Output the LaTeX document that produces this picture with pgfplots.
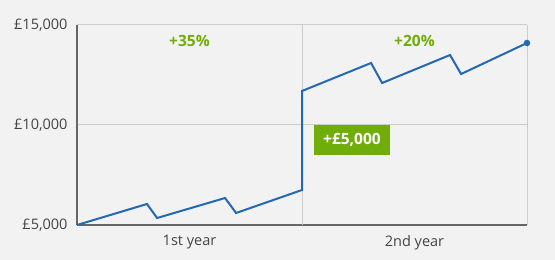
\documentclass[border=0pt]{standalone}
\usepackage{fontspec}
\setmainfont{Open Sans}
\usepackage{pgfplots}
\pgfplotsset{compat=1.18}
\definecolor{bg}{HTML}{F2F2F2}
\definecolor{axgray}{HTML}{666666}
\definecolor{gridgray}{HTML}{CCCCCC}
\definecolor{lblgray}{HTML}{444444}
\definecolor{lineblue}{HTML}{2368B4}
\definecolor{accgreen}{HTML}{70AD0A}
\begin{document}
\begin{tikzpicture}
\path[fill=bg, use as bounding box] (-77pt,-35pt) rectangle (478pt,225pt);
\begin{axis}[
  at={(0,0)}, anchor=south west,
  scale only axis, width=450pt, height=200pt,
  xmin=0, xmax=2, ymin=5000, ymax=15000,
  scaled y ticks=false,
  axis x line*=bottom, axis y line*=left,
  axis line style={draw=axgray, line width=2pt, -},
  xtick={0.5,1.5}, xticklabels={1st year,2nd year},
  ytick={5000,10000,15000}, yticklabels={{£5,000},{£10,000},{£15,000}},
  major tick length=0,
  ymajorgrids,
  grid style={draw=gridgray, line width=1pt},
  extra x ticks={1,2}, extra x tick labels={},
  extra x tick style={grid=major, major tick length=0},
  tick label style={font=\fontsize{14.5}{17}\selectfont, text=lblgray},
  yticklabel style={xshift=-6pt},
  xticklabel style={yshift=-7pt},
  clip=false,
]
\addplot[lineblue, line width=2pt, mark=none] coordinates {
(0,5000) (0.311,6050) (0.356,5350) (0.658,6350) (0.707,5600) (1.0,6750)
(1.0,11700) (1.307,13100) (1.356,12100) (1.658,13500) (1.707,12550) (2.0,14100)
};
\addplot[only marks, mark=*, mark size=3pt, color=lineblue] coordinates {(2.0,14100)};
\node[text=accgreen, font=\fontsize{15.5}{18}\selectfont\bfseries] at (axis cs:0.5,14200) {+35\%};
\node[text=accgreen, font=\fontsize{15.5}{18}\selectfont\bfseries] at (axis cs:1.5,14200) {+20\%};
\node[fill=accgreen, text=white, font=\fontsize{15.5}{18}\selectfont\bfseries, minimum width=76pt, minimum height=30pt, inner sep=0pt] at (axis cs:1.222,9250) {+£5,000};
\end{axis}
\end{tikzpicture}
\end{document}
